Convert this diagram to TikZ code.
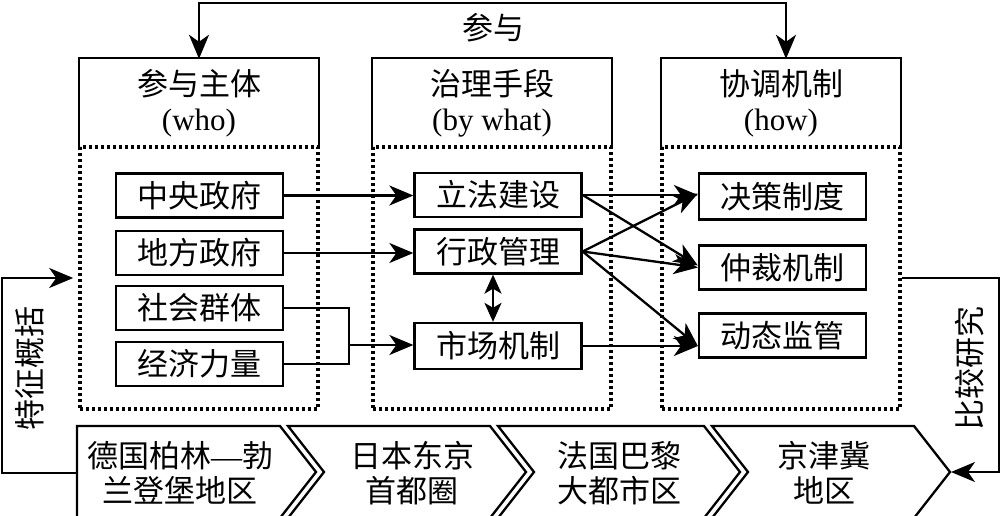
\documentclass[tikz,border=0pt]{standalone}
\usepackage{fontspec}
\setmainfont{Liberation Serif}
\newfontfamily\cjk{Noto Sans CJK SC}
\usetikzlibrary{arrows.meta, positioning}

\begin{document}
\begin{tikzpicture}[
    x=1pt, y=-1pt,
    cjkfont/.style={font=\fontsize{31}{35}\selectfont\cjk},
    box/.style={rectangle, draw, line width=2.3pt, minimum width=167pt, minimum height=44pt, inner sep=0pt, cjkfont},
    hdr/.style={rectangle, minimum width=240pt, minimum height=90pt, inner sep=0pt, align=center, font=\fontsize{31}{35}\selectfont},
    area/.style={rectangle, draw, line width=3.6pt, dash pattern=on 3.4pt off 2.6pt, minimum width=238pt, minimum height=262pt},
    chevtxt/.style={align=center, inner sep=0pt, cjkfont},
    link/.style={line width=2.3pt},
    arrow/.style={-{Stealth[length=24pt, width=20pt, inset=7pt]}, line width=2.3pt},
    toparrow/.style={{Stealth[length=24pt, width=20pt, inset=7pt]}-{Stealth[length=24pt, width=20pt, inset=7pt]}, line width=2.3pt},
    dblarrow/.style={{Stealth[length=19pt, width=17pt, inset=5pt]}-{Stealth[length=19pt, width=17pt, inset=5pt]}, line width=2.3pt},
    chev/.style={line width=2.3pt, line join=miter}
]
\useasboundingbox (0,0) rectangle (1000,516);

% column headers
\node[hdr] (whohdr) at (199,103) {{\cjk 参与主体}\\(who)};
\node[hdr] (byhdr) at (492,103) {{\cjk 治理手段}\\(by what)};
\node[hdr] (howhdr) at (781,103) {{\cjk 协调机制}\\(how)};
\foreach \h in {whohdr, byhdr, howhdr}
    \draw[link] (\h.south west) |- (\h.north east) -- (\h.south east);

% dotted columns
\node[area] (whoarea) at (199,278) {};
\node[area] (byarea) at (492,278) {};
\node[area] (howarea) at (781,278) {};

% top connector
\node[cjkfont] (canyu) at (493,28) {参与};
\draw[toparrow] ([yshift=-1pt]whohdr.north) -- ++(0,-56) -| ([xshift=5pt,yshift=-1pt]howhdr.north);

% who
\node[box] (zyzf) at (199.5,195.5) {中央政府};
\node[box] (dfzf) at (199.5,253) {地方政府};
\node[box] (shqt) at (199.5,308) {社会群体};
\node[box] (jjll) at (199.5,364) {经济力量};

% by what
\node[box] (lfjs) at (498,195) {立法建设};
\node[box] (xzgl) at (498,251.5) {行政管理};
\node[box, minimum height=46pt] (scjz) at (498,346) {市场机制};

% how
\node[box, minimum height=46pt] (jczd) at (782.5,196.5) {决策制度};
\node[box] (zcjz) at (782.5,267.5) {仲裁机制};
\node[box] (dtjg) at (782.5,335.5) {动态监管};

\draw[arrow] (zyzf.east) -- (zyzf.east -| lfjs.west);
\draw[arrow] (dfzf.east) -- (dfzf.east -| xzgl.west);
\coordinate (join) at (349,345);
\draw[link] (shqt.east) -| (join);
\draw[link] (jjll.east) -| (join);
\draw[arrow] (join) -- (join -| scjz.west);
\draw[dblarrow] ([xshift=-5pt]xzgl.south) -- ([xshift=-5pt]scjz.north);

\draw[arrow] (lfjs.east) -- (lfjs.east -| jczd.west);
\draw[arrow] (lfjs.east) -- ([yshift=2pt]zcjz.west);
\draw[arrow] (xzgl.east) -- ([yshift=3pt]jczd.west);
\draw[arrow] (xzgl.east) -- (zcjz.west);
\draw[arrow] (xzgl.east) -- (scjz.east -| dtjg.west);
\draw[arrow] (scjz.east) -- (scjz.east -| dtjg.west);

% case regions
\draw[chev] (77,426) -- (280,426) -- (316,472) -- (280,518) -- (77,518) -- cycle;
\draw[chev] (288,426) -- (490,426) -- (526,472) -- (490,518) -- (288,518) -- (324,472) -- cycle;
\draw[chev] (498,426) -- (704,426) -- (740,472) -- (704,518) -- (498,518) -- (534,472) -- cycle;
\draw[chev] (712,426) -- (914,426) -- (950,472) -- (914,518) -- (712,518) -- (748,472) -- cycle;
\coordinate (c1w) at (77,473);
\coordinate (c4e) at (951,472);

\node[chevtxt] (berlin) at (180,473) {德国柏林{\rmfamily —}勃\\兰登堡地区};
\node[chevtxt] (tokyo) at (412,473) {日本东京\\首都圈};
\node[chevtxt] (paris) at (619,473) {法国巴黎\\大都市区};
\node[chevtxt] (jjj) at (824,473) {京津冀\\地区};

% side loops
\draw[arrow] (c1w) -- ++(-75,0) |- ([xshift=-5pt]whoarea.west);
\node[cjkfont, rotate=90] (tzgk) at (30,368) {特征概括};
\draw[arrow] (howarea.east) -- ++(97,0) |- (c4e);
\node[cjkfont, rotate=90] (bjyj) at (970,368) {比较研究};

\end{tikzpicture}
\end{document}
